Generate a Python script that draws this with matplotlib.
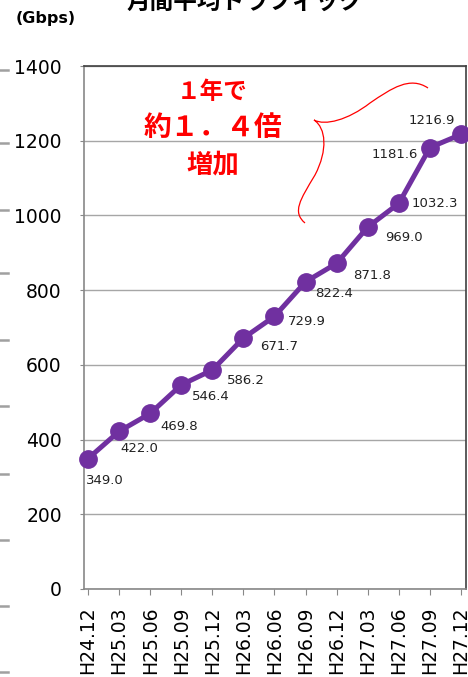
import matplotlib
matplotlib.use("Agg")
import matplotlib.pyplot as plt
from matplotlib.path import Path
from matplotlib.patches import PathPatch
from matplotlib.transforms import Affine2D

plt.rcParams['font.family'] = ['DejaVu Sans', 'Noto Sans CJK JP']

periods = ['H24.12', 'H25.03', 'H25.06', 'H25.09', 'H25.12', 'H26.03', 'H26.06',
           'H26.09', 'H26.12', 'H27.03', 'H27.06', 'H27.09', 'H27.12']
traffic = [349.0, 422.0, 469.8, 546.4, 586.2, 671.7, 729.9,
           822.4, 871.8, 969.0, 1032.3, 1181.6, 1216.9]
yticks = [0, 200, 400, 600, 800, 1000, 1200, 1400]

# label offsets in pixels (dx, dy down), alignment
label_off = [(-2, 22, 'left'), (1, 17, 'left'), (10, 13, 'left'), (11, 12, 'left'),
             (15, 10, 'left'), (17, 8, 'left'), (13, 5, 'left'), (10, 12, 'left'),
             (16, 12, 'left'), (17, 10, 'left'), (13, 0, 'left'), (-12, 7, 'right'),
             (-6, -14, 'right')]

W, H = 468, 677
fig = plt.figure(figsize=(W / 100, H / 100), dpi=100)
ax = fig.add_axes([84 / W, 1 - 589 / H, 382 / W, 523 / H])

purple = '#7030A0'
x = list(range(len(traffic)))
ax.plot(x, traffic, color=purple, lw=3.6, marker='o', ms=12.5, zorder=3, clip_on=False)

px2pt = 72 / 100
for xi, v, (dx, dy, ha) in zip(x, traffic, label_off):
    ax.annotate(f'{v:.1f}', (xi, v), xytext=(dx * px2pt, -dy * px2pt),
                textcoords='offset points', ha=ha, va='center', fontsize=9.5,
                color='#222222', zorder=4)

ax.set_xlim(-4 / 31.08, 12 + 5 / 31.08)
ax.set_ylim(0, 1400)
ax.set_yticks(yticks)
ax.set_xticks(x)
ax.set_xticklabels(periods, rotation=90, fontsize=13.5)
ax.tick_params(axis='y', labelsize=13.5, length=3, color='#888888', pad=13)
ax.tick_params(axis='x', length=4.5, color='#888888', pad=8)
ax.grid(axis='y', color='#A6A6A6', lw=1)
ax.set_axisbelow(True)
for s in ['left', 'bottom']:
    ax.spines[s].set_color('#888888')
    ax.spines[s].set_linewidth(1.2)
for s in ['top', 'right']:
    ax.spines[s].set_color('#404040')
    ax.spines[s].set_linewidth(1.2)

# pixel coordinates transform for decorations
pix = Affine2D().scale(1 / W, -1 / H).translate(0, 1) + fig.transFigure

fig.text(245, 3, '月間平均トラフィック', transform=pix, ha='center', va='center',
         fontsize=17, fontweight='bold', family=['Noto Sans CJK JP'])
fig.text(46, 19, '(Gbps)', transform=pix, ha='center', va='center',
         fontsize=11.5, fontweight='bold')

red = '#FF0000'
fig.text(212, 92, '１年で', transform=pix, ha='center', va='center', color=red,
         fontsize=17, fontweight='bold', family=['Noto Sans CJK JP'])
fig.text(213, 128, '約１．４倍', transform=pix, ha='center', va='center', color=red,
         fontsize=20, fontweight='bold', family=['Noto Sans CJK JP'])
fig.text(213, 165, '増加', transform=pix, ha='center', va='center', color=red,
         fontsize=19, fontweight='bold', family=['Noto Sans CJK JP'])

verts = [(428, 88), (410, 76), (392, 88), (370, 103),
         (348, 120), (325, 126), (314, 120),
         (326, 128), (328, 150), (315, 175),
         (300, 200), (292, 212), (305, 223)]
codes = [Path.MOVETO] + [Path.CURVE4] * 12
fig.patches.append(PathPatch(Path(verts, codes), transform=pix, fill=False,
                             edgecolor=red, lw=0.9))

# small marks cut in at the left edge
for yy in [70, 143, 210, 273, 340, 406, 474, 540, 606, 672]:
    fig.lines.append(plt.Line2D([0, 8], [yy, yy], transform=pix,
                                color='#A0A0A0', lw=1.8))

fig.savefig('out.png', dpi=100)
